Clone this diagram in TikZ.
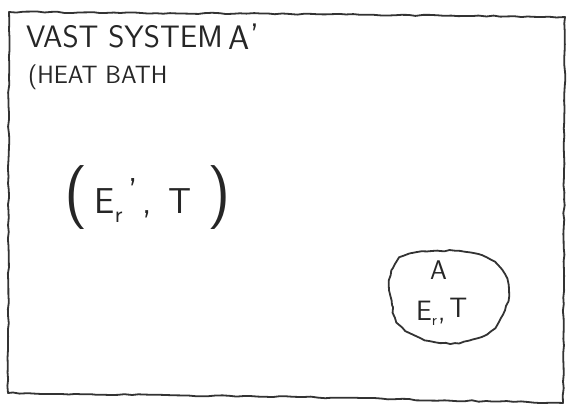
\documentclass[tikz,border=0pt]{standalone}
\usepackage{tikz}
\usetikzlibrary{decorations.pathmorphing}

\tikzset{
  hand/.style={draw=black!80, line width=1.8pt, line join=round, line cap=round,
    decorate, decoration={random steps, segment length=7pt, amplitude=0.7pt}},
  chalk/.style={font=\sffamily, text=black!85, inner sep=0pt, anchor=base west},
}
\newcommand{\fsz}[1]{\fontsize{#1}{#1}\selectfont}

\begin{document}
\begin{tikzpicture}[x=1pt,y=-1pt]
            \useasboundingbox (0,0) rectangle (573,411);
            % Outline of the bath
            \draw[hand] (9,12) -- (290,14) -- (565,17) -- (563,403) -- (300,397) -- (8,393) -- cycle;
            % Labels
            \node[chalk, font=\sffamily\fsz{31}] (title) at (26,48) {VAST SYSTEM};
            \node[chalk, font=\sffamily\fsz{34}] (prime) at (228,50) {A\kern1pt\raisebox{2pt}{'}};
            \node[chalk, font=\sffamily\fsz{25}] (bath) at (28,84) {(HEAT BATH};
            % Energy and temperature of the bath
            \node[chalk, font=\sffamily\fsz{36}] (pair) at (64,214)
                {{\fsz{64}(}\kern7pt E\raisebox{-9pt}{\fsz{24}r}\kern6pt\raisebox{10pt}{'}\kern5pt,\kern16pt T\kern16pt{\fsz{64})}};

            % The small system
            \draw[hand, decoration={random steps, segment length=5pt, amplitude=0.8pt}]
                plot[smooth cycle, tension=0.55] coordinates {
                  (400,258) (412,253) (440,251) (460,251) (478,254) (495,262)
                  (505,275) (509,292) (505,310) (495,328) (478,338) (455,343)
                  (430,341) (410,333) (397,322) (392,305) (389,285) (393,268)};
            \node[chalk, font=\sffamily\fsz{27}] (sys) at (430,280) {A};
            \node[chalk, font=\sffamily\fsz{28}] (syspair) at (416,321)
                {E\raisebox{-5pt}{\fsz{16}r}\kern1pt,\kern4pt\raisebox{3pt}{T}};
\end{tikzpicture}
\end{document}
